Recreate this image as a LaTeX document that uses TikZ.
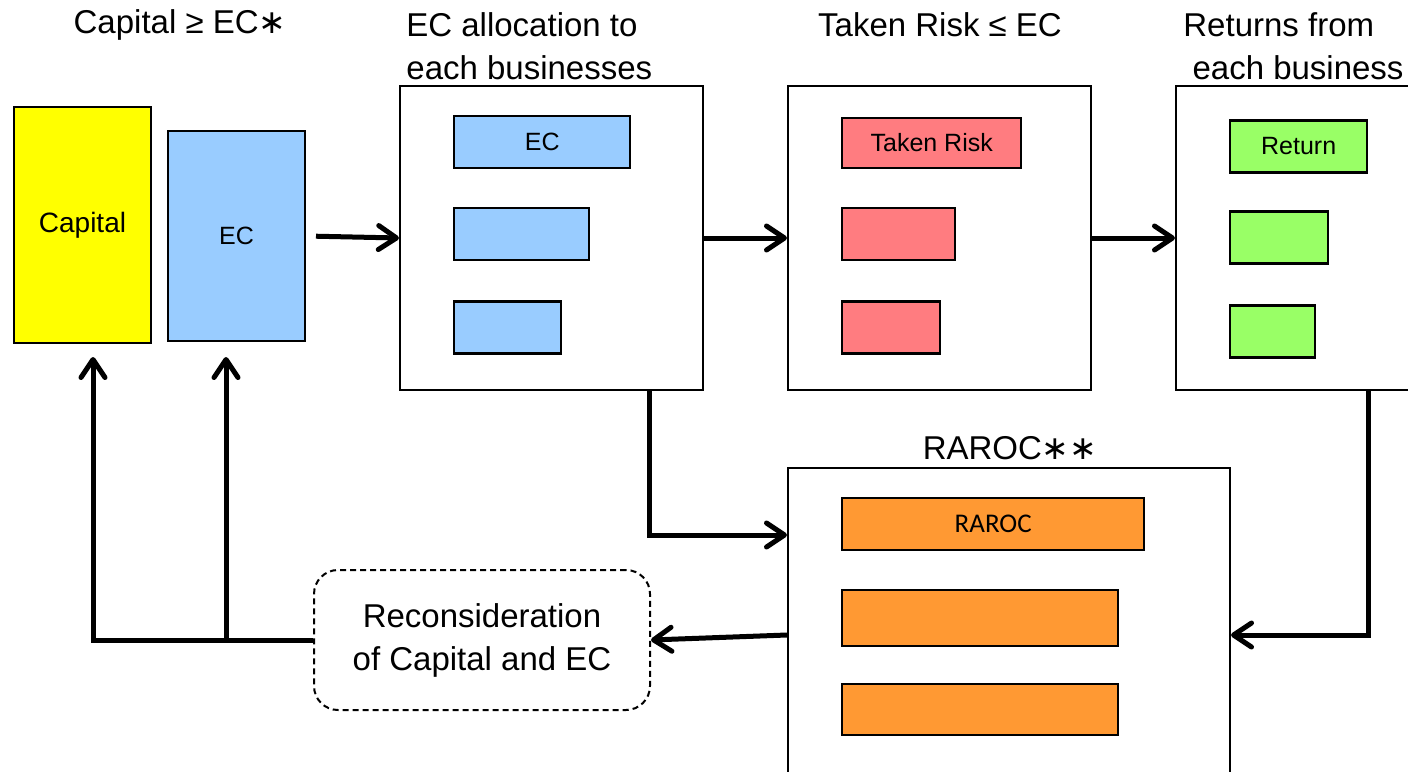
\documentclass[tikz,border=0pt]{standalone}
\usepackage{fontspec}
\setmainfont{Liberation Sans}
\newfontfamily\calibrifont{Carlito}
\newfontfamily\starfont{DejaVu Sans}
\usepackage{tikz}
\usetikzlibrary{arrows.meta,positioning}

\definecolor{ecblue}{HTML}{99CCFF}
\definecolor{riskred}{HTML}{FF7C80}
\definecolor{retgreen}{HTML}{99FF66}
\definecolor{rarocorange}{HTML}{FF9933}
\definecolor{capyellow}{HTML}{FFFF00}

\newcommand\headstar{{\starfont\fontsize{16.5}{21.5}\selectfont ∗}}

\begin{document}
\begin{tikzpicture}[x=0.5pt,y=-0.5pt,
  >={Straight Barb[length=9pt,width=12pt,line cap=round,line join=round]},
  panel/.style={draw,line width=1pt,fill=white,inner sep=0pt},
  bar/.style={draw,line width=1.2pt,anchor=west,minimum height=26pt,inner sep=0pt,
    font=\fontsize{12.5}{14}\selectfont},
  head/.style={inner sep=0pt,font=\fontsize{16.5}{21.5}\selectfont},
  flow/.style={->,line width=2.5pt}]
  \clip (0,0) rectangle (1408,771);

  % capital and EC
  \node[panel,fill=capyellow,minimum width=68.5pt,minimum height=118pt,
    font=\fontsize{14}{16}\selectfont] (capital) at (82.5,225) {Capital};
  \node[panel,fill=ecblue,minimum width=68.5pt,minimum height=105pt,
    font=\fontsize{12.5}{14}\selectfont] (ecall) at (236.5,236) {EC};
  \node[head] (captitle) at (180,25) {Capital ≥ EC\headstar};

  % the three business panels
  \node[panel,minimum width=151.5pt,minimum height=152pt] (alloc) at (551.5,238) {};
  \node[panel,minimum width=151.5pt,minimum height=152pt] (risk) at (939.5,238) {};
  \node[panel,minimum width=151.5pt,minimum height=152pt] (ret) at (1327.5,238) {};
  \node[head,anchor=west,align=left] (alloctitle) at (406,46.5) {EC allocation to\\each businesses};
  \node[head] (risktitle) at (940,25) {Taken Risk ≤ EC};
  \node[head,anchor=west,align=left] (rettitle) at (1183,46.5) {Returns from\\\ each business};

  \node[bar,fill=ecblue,minimum width=88pt] (ec1) at (453,142) {EC};
  \node[bar,fill=ecblue,minimum width=67.5pt] (ec2) at (453,234) {};
  \node[bar,fill=ecblue,minimum width=53.5pt] (ec3) at (453,327.5) {};

  \node[bar,fill=riskred,minimum width=89.5pt,minimum height=25pt] (risk1) at (841,143) {Taken Risk};
  \node[bar,fill=riskred,minimum width=56.5pt] (risk2) at (841,234) {};
  \node[bar,fill=riskred,minimum width=49pt] (risk3) at (841,327.5) {};

  \node[bar,fill=retgreen,minimum width=68.5pt] (ret1) at (1229,146.5) {Return};
  \node[bar,fill=retgreen,minimum width=49pt] (ret2) at (1229,237.5) {};
  \node[bar,fill=retgreen,minimum width=42.5pt] (ret3) at (1229,331.5) {};

  % RAROC panel
  \node[panel,minimum width=221pt,minimum height=167pt] (raroc) at (1009,635) {};
  \node[head] (raroctitle) at (1010,448) {RAROC\headstar\headstar};
  \node[bar,fill=rarocorange,minimum width=151pt,
    font=\calibrifont\fontsize{13.5}{15}\selectfont] (raroc1) at (841,524) {RAROC};
  \node[bar,fill=rarocorange,minimum width=138pt,minimum height=28pt] (raroc2) at (841,618) {};
  \node[bar,fill=rarocorange,minimum width=138pt,minimum height=25.5pt] (raroc3) at (841,709.5) {};

  % feedback
  \node[draw,line width=1pt,dash pattern=on 3pt off 2pt,rounded corners=12pt,
    minimum width=168pt,minimum height=70pt,align=center,head] (recon) at (482,640)
    {Reconsideration\\of Capital and EC};

  \draw[flow,shorten <=5pt] (ecall.east) -- (alloc.west);
  \draw[flow] (alloc.east) -- (risk.west);
  \draw[flow] (risk.east) -- (ret.west);
  \draw[flow] ([xshift=49pt]alloc.south) |- ([yshift=50pt]raroc.west);
  \draw[flow] ([xshift=20.25pt]ret.south) |- (raroc.east);
  \draw[flow] (raroc.west) -- (recon.east);
  \coordinate (capin) at (93,357);
  \coordinate (ecin) at (226,357);
  \draw[flow] (recon.west) -| (capin);
  \draw[flow] (recon.west -| ecin) -- (ecin);
\end{tikzpicture}
\end{document}
